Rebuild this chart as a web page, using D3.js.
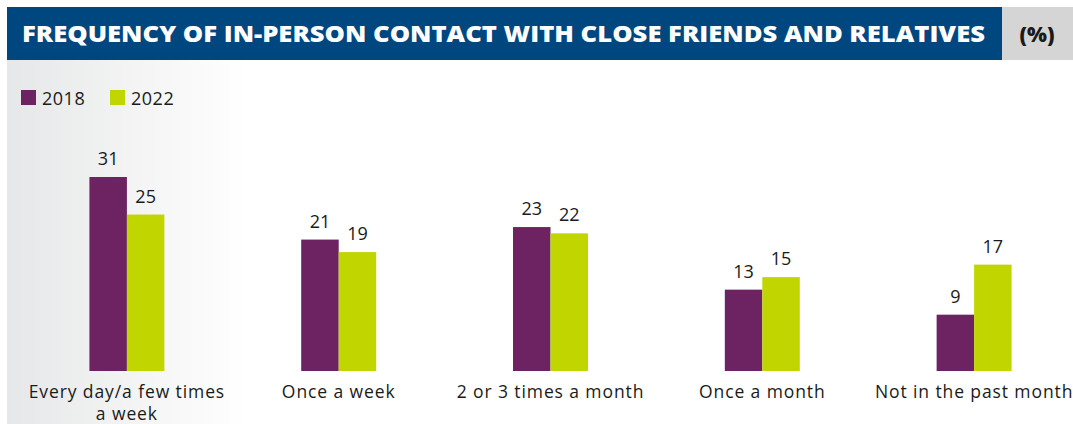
<!DOCTYPE html>
<html>
<head>
<meta charset="utf-8">
<script src="https://cdn.jsdelivr.net/npm/d3@7"></script>
<style>
  body { margin: 0; background: #fff; }
  svg { display: block; font-family: 'Open Sans', sans-serif; }
</style>
</head>
<body>
<svg></svg>
<script>
const width = 1073;
const height = 424;
const svg = d3.select('svg').attr('width', width).attr('height', height);

// data
const categories = [
  ['Every day/a few times', 'a week'],
  ['Once a week'],
  ['2 or 3 times a month'],
  ['Once a month'],
  ['Not in the past month']
];
const years = ['2018', '2022'];
const values2018 = [31, 21, 23, 13, 9];
const values2022 = [25, 19, 22, 15, 17];
const colors = ['#6d2262', '#c1d500'];

const rows = categories.map((c, i) => ({ key: c.join(' '), lines: c, v: [values2018[i], values2022[i]] }));

// background gradient
const defs = svg.append('defs');
const grad = defs.append('linearGradient').attr('id', 'bg').attr('x1', 0).attr('x2', 1).attr('y1', 0).attr('y2', 0);
grad.append('stop').attr('offset', '0%').attr('stop-color', '#e6e7e8');
grad.append('stop').attr('offset', '100%').attr('stop-color', '#ffffff');
svg.append('rect').attr('x', 7).attr('y', 60).attr('width', 240).attr('height', height - 60).attr('fill', 'url(#bg)');

// title bar
svg.append('rect').attr('x', 7).attr('y', 7).attr('width', 995).attr('height', 53).attr('fill', '#00467f');
svg.append('rect').attr('x', 1002).attr('y', 7).attr('width', 71).attr('height', 53).attr('fill', '#d5d5d5');
svg.append('text').attr('x', 22).attr('y', 42)
   .attr('fill', '#fff').style('font-weight', 800).style('font-size', '22px')
   .attr('textLength', 963).attr('lengthAdjust', 'spacingAndGlyphs')
   .text('FREQUENCY OF IN-PERSON CONTACT WITH CLOSE FRIENDS AND RELATIVES');
svg.append('text').attr('x', 1037).attr('y', 42)
   .attr('fill', '#1a1a1a').style('font-weight', 800).style('font-size', '21px')
   .style('text-anchor', 'middle').text('(%)');

// legend
const legend = svg.append('g').selectAll('g').data(years).enter().append('g')
   .attr('transform', (d, i) => `translate(${21 + i * 89}, 90)`);
legend.append('rect').attr('width', 15).attr('height', 15).attr('fill', (d, i) => colors[i]);
legend.append('text').attr('x', 21).attr('y', 14.5).style('font-size', '18px')
   .style('letter-spacing', '0.5px').attr('fill', '#1a1a1a').text(d => d);

// scales
const x0 = d3.scaleBand().domain(rows.map(d => d.key)).range([21, 1080]).paddingInner(0.646).paddingOuter(0.323);
const x1 = d3.scaleBand().domain([0, 1]).range([0, x0.bandwidth()]);
const y = d3.scaleLinear().domain([0, 31]).range([371, 177]);

const groups = svg.append('g').selectAll('g').data(rows).enter().append('g')
   .attr('transform', d => `translate(${x0(d.key)},0)`);

groups.selectAll('rect').data(d => d.v).enter().append('rect')
   .attr('x', (d, i) => x1(i))
   .attr('y', d => y(d))
   .attr('width', x1.bandwidth())
   .attr('height', d => y(0) - y(d))
   .attr('fill', (d, i) => colors[i]);

groups.selectAll('text.val').data(d => d.v).enter().append('text')
   .attr('class', 'val')
   .attr('x', (d, i) => x1(i) + x1.bandwidth() / 2)
   .attr('y', d => y(d) - 12)
   .style('text-anchor', 'middle').style('font-size', '18px').attr('fill', '#1a1a1a')
   .text(d => d);

// category labels
groups.append('text')
   .attr('x', x0.bandwidth() / 2)
   .attr('y', 398)
   .style('text-anchor', 'middle').style('font-size', '17.5px')
   .style('letter-spacing', '0.9px').attr('fill', '#1a1a1a')
   .selectAll('tspan').data(d => d.lines).enter().append('tspan')
   .attr('x', x0.bandwidth() / 2)
   .attr('dy', (d, i) => i ? 22 : 0)
   .text(d => d);
</script>
</body>
</html>
